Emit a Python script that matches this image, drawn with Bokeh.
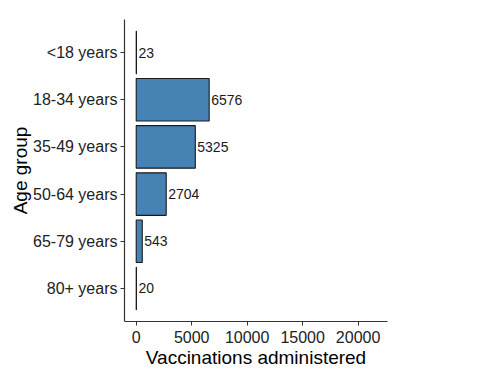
from bokeh.plotting import figure
from bokeh.models import FactorRange, Range1d, FixedTicker, ColumnDataSource
from bokeh.core.properties import value
from bokeh.embed import file_html
from bokeh.resources import INLINE

age_groups = ["<18 years", "18-34 years", "35-49 years", "50-64 years", "65-79 years", "80+ years"]
vaccinations = [23, 6576, 5325, 2704, 543, 20]
x_ticks = [0, 5000, 10000, 15000, 20000]

factors = list(reversed(age_groups))
src = ColumnDataSource(dict(group=age_groups, n=vaccinations, label=[str(v) for v in vaccinations]))

p = figure(
    y_range=FactorRange(factors=factors, range_padding=0.2, range_padding_units="absolute"),
    x_range=Range1d(-1056, 22650),
    frame_width=263, frame_height=302,
    min_border_left=124, min_border_right=90, min_border_top=19, min_border_bottom=51,
    output_backend="svg", toolbar_location=None,
)
p.hbar(y="group", left=0, right="n", height=0.9, source=src,
       fill_color="#4682B4", line_color="#1a1a1a", line_width=1.1)
p.text(x="n", y="group", text="label", source=src, x_offset=2,
       text_align="left", text_baseline="middle",
       text_font=value("Liberation Sans"), text_font_size="14px", text_color="#1a1a1a")

p.xgrid.visible = False
p.ygrid.visible = False
p.outline_line_color = None

p.xaxis.ticker = FixedTicker(ticks=x_ticks)
p.xaxis.axis_label = "Vaccinations administered"
p.yaxis.axis_label = "Age group"
for ax in (p.xaxis, p.yaxis):
    ax.axis_line_color = "#333333"
    ax.axis_line_width = 1.2
    ax.major_tick_line_color = "#333333"
    ax.major_tick_in = 0
    ax.major_tick_out = 4
    ax.minor_tick_line_color = None
    ax.major_label_text_font = "Liberation Sans"
    ax.major_label_text_font_size = "16px"
    ax.major_label_text_color = "#222222"
    ax.axis_label_text_font = "Liberation Sans"
    ax.axis_label_text_font_size = "19px"
    ax.axis_label_text_font_style = "normal"
    ax.axis_label_text_color = "#000000"
p.xaxis.major_label_standoff = 5
p.yaxis.major_label_standoff = 3
p.xaxis.axis_label_standoff = 1
p.yaxis.axis_label_standoff = -1

open("out.html", "w").write(file_html(p, INLINE))
